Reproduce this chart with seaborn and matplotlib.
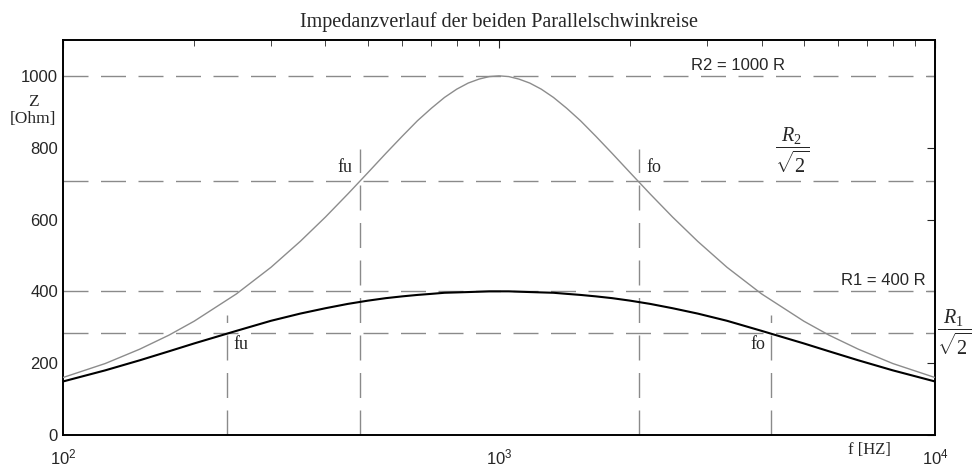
import matplotlib
matplotlib.use("Agg")
import matplotlib.pyplot as plt
import seaborn as sns
import pandas as pd

# frequencies [Hz] and impedance
freq = [100, 125, 150, 175, 200, 250, 300, 350, 400, 450, 500, 550, 600, 650,
        700, 750, 800, 850, 900, 950, 1000, 1053, 1111, 1176, 1250, 1333, 1429,
        1538, 1667, 1818, 2000, 2222, 2500, 2857, 3333, 4000, 5000, 5714, 6667,
        8000, 10000]
z_r2 = [160, 199, 239, 278, 317, 393, 467, 539, 607, 671, 730, 784, 832, 875,
        910, 940, 963, 980, 991, 998, 1000, 998, 991, 980, 963, 940, 910,
        875, 832, 784, 730, 671, 607, 539, 467, 393, 317, 278, 239,
        199, 160]
z_r1 = [149, 180, 208, 233, 255, 290, 318, 338, 353, 365, 374, 381, 386, 390,
        393, 396, 397, 398, 399, 400, 400, 400, 399, 398, 397, 396, 393,
        390, 386, 381, 374, 365, 353, 338, 318, 290, 255, 233, 208,
        180, 149]

# reference levels and band edges
h_levels = [1000, 707, 400, 283]
f_r2 = [480, 2090]
f_r1 = [238, 4200]
v_top_r2 = 797
v_top_r1 = 333

sns.set_style("white")
plt.rcParams["font.family"] = ["Liberation Sans", "DejaVu Sans"]
plt.rcParams["mathtext.fontset"] = "custom"
plt.rcParams["mathtext.rm"] = "Liberation Serif"
plt.rcParams["mathtext.it"] = "Liberation Serif:italic"

df = pd.DataFrame({"f": freq, "R2": z_r2, "R1": z_r1})

fig = plt.figure(figsize=(9.75, 4.7), dpi=100)
ax = fig.add_axes([0.0646, 0.0745, 0.8944, 0.8405])

dash_col = "#8a8a8a"
for lv in h_levels:
    ax.axhline(lv, color=dash_col, lw=1.0, dashes=(18, 9), zorder=1)
for fx in f_r2:
    ax.plot([fx, fx], [0, v_top_r2], color=dash_col, lw=1.0, dashes=(18, 9), zorder=1)
for fx in f_r1:
    ax.plot([fx, fx], [0, v_top_r1], color=dash_col, lw=1.0, dashes=(18, 9), zorder=1)

sns.lineplot(data=df, x="f", y="R2", ax=ax, color="#8c8c8c", lw=1.0, zorder=3)
sns.lineplot(data=df, x="f", y="R1", ax=ax, color="black", lw=1.5, zorder=3)

ax.set_xscale("log")
ax.set_xlim(100, 10000)
ax.set_ylim(0, 1100)
ax.set_yticks([0, 200, 400, 600, 800, 1000])
ax.set_xlabel("")
ax.set_ylabel("")
ax.tick_params(which="both", direction="in", top=True, right=True, labelsize=12)
ax.tick_params(axis="x", which="major", pad=9)
ax.tick_params(which="major", length=6)
ax.tick_params(which="minor", length=4)
for s in ax.spines.values():
    s.set_color("black")
    s.set_linewidth(1.4)

serif = ["Liberation Serif", "DejaVu Serif"]
ax.set_title("Impedanzverlauf der beiden Parallelschwinkreise", family=serif,
             fontsize=14.5, pad=9)

fig.text(0.034, 0.765, "Z\n[Ohm]", family=serif, fontsize=12.5, ha="center",
         va="center", linespacing=1.1)
fig.text(0.892, 0.042, "f [HZ]", family=serif, fontsize=12, ha="center", va="center")

ax.text(460, 722, "fu", family=serif, fontsize=13, ha="right", va="bottom")
ax.text(2180, 722, "fo", family=serif, fontsize=13, ha="left", va="bottom")
ax.text(246, 275, "fu", family=serif, fontsize=13, ha="left", va="top")
ax.text(4080, 275, "fo", family=serif, fontsize=13, ha="right", va="top")

ax.text(2750, 1008, "R2 = 1000 R", fontsize=12, ha="left", va="bottom")
ax.text(9500, 408, "R1 = 400 R", fontsize=12, ha="right", va="bottom")
ax.text(4700, 792, r"$\dfrac{R_2}{\sqrt{2}}$", fontsize=14.5, ha="center", va="center")
ax.text(11050, 286, r"$\dfrac{R_1}{\sqrt{2}}$", fontsize=14.5, ha="center", va="center",
        clip_on=False)

fig.savefig("out.png", dpi=100)
